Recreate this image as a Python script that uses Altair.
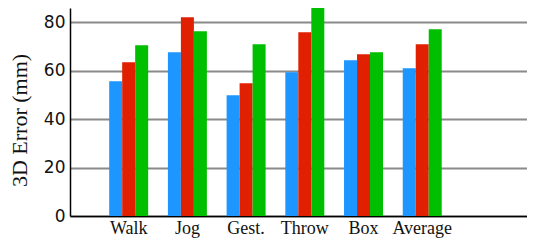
import altair as alt
import pandas as pd

categories = ["Walk", "Jog", "Gest.", "Throw", "Box", "Average"]
series = ["A", "B", "C"]
values_a = [55.6, 67.6, 49.9, 59.4, 64.3, 61.0]
values_b = [63.5, 82.1, 54.8, 75.9, 66.8, 70.9]
values_c = [70.5, 76.3, 70.9, 87.4, 67.6, 77.1]
colors = ["#1E96FF", "#E02000", "#00BE00"]
y_ticks = [0, 20, 40, 60, 80]

rows = []
for s, vals in zip(series, [values_a, values_b, values_c]):
    for c, v in zip(categories, vals):
        rows.append({"cat": c, "series": s, "value": v})
df = pd.DataFrame(rows)

x_domain = categories + [" "]

chart = alt.Chart(df).mark_bar(clip=True).encode(
    x=alt.X("cat:N",
            scale=alt.Scale(domain=x_domain, paddingInner=0.336, paddingOuter=0.56, align=0.596),
            axis=alt.Axis(title=None, labelAngle=0, labelFont="Liberation Serif",
                          labelFontSize=18, labelColor="#111", labelPadding=3,
                          ticks=False, domainColor="#000", domainWidth=1.5,
                          grid=False)),
    xOffset=alt.XOffset("series:N", scale=alt.Scale(paddingInner=0, paddingOuter=0)),
    y=alt.Y("value:Q", scale=alt.Scale(domain=[0, 85.9], nice=False, zero=True),
            axis=alt.Axis(values=y_ticks, title="3D Error (mm)",
                          titleFont="Liberation Serif", titleFontSize=22,
                          titleFontWeight="normal", titleColor="#111",
                          titleX=-51, titleY=112, titleAngle=-90,
                          titleBaseline="middle", titleAlign="center",
                          labelFont="DejaVu Sans", labelFontSize=17,
                          labelColor="#111", labelPadding=5, ticks=False,
                          domainColor="#000", domainWidth=1.5,
                          grid=True, gridColor="#8a8a8a", gridWidth=2)),
    color=alt.Color("series:N", scale=alt.Scale(domain=series, range=colors),
                    legend=None),
).properties(
    width=457, height=208,
    autosize=alt.AutoSizeParams(type="none"),
    padding={"left": 62, "top": 0, "right": 0, "bottom": 23},
).configure_view(stroke=None)

chart.save("out.html", embed_options={"renderer": "svg", "actions": False})
